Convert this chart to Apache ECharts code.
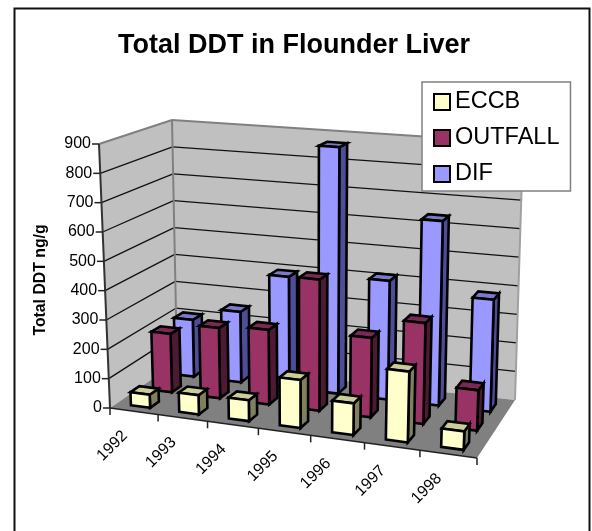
<!DOCTYPE html>
<html>
<head>
<meta charset="utf-8">
<title>Total DDT in Flounder Liver</title>
<script src="https://cdn.jsdelivr.net/npm/echarts@6/dist/echarts.min.js"></script>
<style>
html, body { margin: 0; padding: 0; background: #fff; }
#chart { width: 592px; height: 531px; }
</style>
</head>
<body>
<div id="chart"></div>
<script>
const years = ['1992', '1993', '1994', '1995', '1996', '1997', '1998'];
const yTicks = [0, 100, 200, 300, 400, 500, 600, 700, 800, 900];
const seriesNames = ['ECCB', 'OUTFALL', 'DIF'];
const eccb = [45, 65, 70, 160, 105, 232, 60];
const outfall = [205, 245, 258, 450, 270, 340, 135];
const dif = [205, 252, 395, 870, 415, 640, 385];

// 三维盒子的八个角（屏幕像素）：前左、前右、后左、后右
const floorCorners = { fl: [110, 408], fr: [477, 458], bl: [177, 362], br: [515, 400] };
const topCorners = { fl: [99, 144], fr: [487, 178], bl: [172, 120], br: [523, 143] };

const grid = { left: 100, top: 100, width: 400, height: 300 };

const faceColors = {
    ECCB: { front: '#FFFFCC', top: '#CCCC99', side: '#808060' },
    OUTFALL: { front: '#993366', top: '#7A2952', side: '#4D1A33' },
    DIF: { front: '#9999FF', top: '#7A7ACC', side: '#4D4D99' }
};

function lerp(a, b, t) {
    return a + (b - a) * t;
}

// 透视投影：x 为年份坐标，y 为数值，z 为深度 0-1，经坐标轴取得比例
function project(api, x, y, z) {
    const c = api.coord([x, y]);
    const u = (c[0] - grid.left) / grid.width;
    const v = (grid.top + grid.height - c[1]) / grid.height;
    const k = lerp(0.905, 0.95, z);
    const s = k * u / (1 + (k - 1) * u);
    const point = [0, 1].map(function (n) {
        const bottom = lerp(
            lerp(floorCorners.fl[n], floorCorners.fr[n], s),
            lerp(floorCorners.bl[n], floorCorners.br[n], s), z);
        const top = lerp(
            lerp(topCorners.fl[n], topCorners.fr[n], s),
            lerp(topCorners.bl[n], topCorners.br[n], s), z);
        return lerp(bottom, top, v);
    });
    return point;
}

function polygon(points, fill, stroke, lineWidth) {
    return {
        type: 'polygon',
        shape: { points: points },
        style: { fill: fill, stroke: stroke, lineWidth: lineWidth, lineJoin: 'miter' }
    };
}

function line(a, b, stroke, lineWidth) {
    return {
        type: 'line',
        shape: { x1: a[0], y1: a[1], x2: b[0], y2: b[1] },
        style: { stroke: stroke, lineWidth: lineWidth }
    };
}

function renderWalls(params, api) {
    const n = years.length;
    const yMax = yTicks[yTicks.length - 1];
    const p = function (x, y, z) { return project(api, x, y, z); };
    const children = [
        polygon([p(0, 0, 0), p(0, 0, 1), p(0, yMax, 1), p(0, yMax, 0)], '#C0C0C0', 'none', 0),
        polygon([p(0, 0, 1), p(n, 0, 1), p(n, yMax, 1), p(0, yMax, 1)], '#C0C0C0', 'none', 0),
        polygon([p(0, 0, 0), p(n, 0, 0), p(n, 0, 1), p(0, 0, 1)], '#808080', 'none', 0)
    ];
    yTicks.slice(1, -1).forEach(function (t) {
        children.push(line(p(0, t, 0), p(0, t, 1), '#111', 1.3));
        children.push(line(p(0, t, 1), p(n, t, 1), '#111', 1.3));
    });
    children.push(line(p(0, 0, 1), p(0, yMax, 1), '#808080', 2));
    children.push(line(p(0, yMax, 0), p(0, yMax, 1), '#808080', 2));
    children.push(line(p(0, yMax, 1), p(n, yMax, 1), '#808080', 2));
    children.push(line(p(n, 0, 1), p(n, yMax, 1), '#A0A0A0', 2));
    children.push(line(p(0, 0, 0), p(0, yMax, 0), '#333', 2));
    children.push(line(p(0, 0, 0), p(n, 0, 0), '#222', 1.5));
    yTicks.forEach(function (t) {
        const a = p(0, t, 0);
        children.push(line([a[0] - 7, a[1]], a, '#222', 1.5));
        children.push({
            type: 'text',
            style: {
                x: a[0] - 8, y: a[1], text: String(t), align: 'right', verticalAlign: 'middle',
                font: '16px "Liberation Sans", Arial, sans-serif', fill: '#000'
            }
        });
    });
    for (let i = 0; i <= n; i++) {
        const a = p(i, 0, 0);
        children.push(line(a, [a[0], a[1] + 7], '#222', 1.5));
    }
    years.forEach(function (year, i) {
        const a = p(i + 0.5, 0, 0);
        children.push({
            type: 'text',
            x: a[0] - 9,
            y: a[1] + 22,
            rotation: Math.PI / 4,
            style: {
                x: 0, y: 0, text: year, align: 'right', verticalAlign: 'middle',
                font: '16px "Liberation Sans", Arial, sans-serif', fill: '#000'
            }
        });
    });
    return { type: 'group', children: children };
}

function renderBar(depthIndex, colors) {
    return function (params, api) {
        const x0 = api.value(0) - 0.2;
        const x1 = api.value(0) + 0.2;
        const y = api.value(1);
        const z0 = (depthIndex + 0.3) / seriesNames.length;
        const z1 = (depthIndex + 0.7) / seriesNames.length;
        const p = function (a, b, c) { return project(api, a, b, c); };
        return {
            type: 'group',
            children: [
                polygon([p(x1, 0, z0), p(x1, 0, z1), p(x1, y, z1), p(x1, y, z0)], colors.side, '#000', 2.6),
                polygon([p(x0, y, z0), p(x1, y, z0), p(x1, y, z1), p(x0, y, z1)], colors.top, '#000', 2.6),
                polygon([p(x0, 0, z0), p(x1, 0, z0), p(x1, y, z0), p(x0, y, z0)], colors.front, '#000', 2.6)
            ]
        };
    };
}

function barSeries(name, values, depthIndex) {
    return {
        name: name,
        type: 'custom',
        renderItem: renderBar(depthIndex, faceColors[name]),
        itemStyle: { color: faceColors[name].front },
        encode: { x: 0, y: 1 },
        data: values.map(function (v, i) { return [i + 0.5, v]; }),
        z: 3
    };
}

const chart = echarts.init(document.getElementById('chart'), null, { renderer: 'canvas' });
chart.setOption({
    animation: false,
    backgroundColor: '#fff',
    title: {
        text: 'Total DDT in Flounder Liver',
        left: 289,
        top: 27,
        textAlign: 'center',
        textStyle: { fontFamily: '"Liberation Sans", Arial, sans-serif', fontSize: 27, fontWeight: 'bold', color: '#000' }
    },
    legend: {
        orient: 'vertical',
        left: 422,
        top: 82,
        padding: [8, 11, 5, 11],
        itemWidth: 16,
        itemHeight: 16,
        itemGap: 12,
        icon: 'rect',
        backgroundColor: '#fff',
        borderColor: '#808080',
        borderWidth: 1.5,
        borderRadius: 0,
        textStyle: { fontFamily: '"Liberation Sans", Arial, sans-serif', fontSize: 23.5, color: '#000' },
        itemStyle: { borderColor: '#000', borderWidth: 2 },
        data: seriesNames
    },
    grid: grid,
    xAxis: { type: 'value', min: 0, max: years.length, show: false },
    yAxis: { type: 'value', min: 0, max: yTicks[yTicks.length - 1], show: false },
    graphic: [
        {
            type: 'rect',
            shape: { x: 14.5, y: 8.5, width: 575, height: 540 },
            style: { fill: 'none', stroke: '#111', lineWidth: 2 },
            z: 0
        },
        {
            type: 'text',
            x: 41,
            y: 280,
            rotation: Math.PI / 2,
            style: {
                text: 'Total DDT ng/g', align: 'center', verticalAlign: 'middle',
                font: 'bold 15.8px "Liberation Sans", Arial, sans-serif', fill: '#000'
            }
        }
    ],
    series: [
        {
            name: 'walls',
            type: 'custom',
            renderItem: renderWalls,
            encode: { x: 0, y: 1 },
            data: [[0, 0]],
            z: 1
        },
        barSeries('DIF', dif, 2),
        barSeries('OUTFALL', outfall, 1),
        barSeries('ECCB', eccb, 0)
    ]
});
</script>
</body>
</html>
